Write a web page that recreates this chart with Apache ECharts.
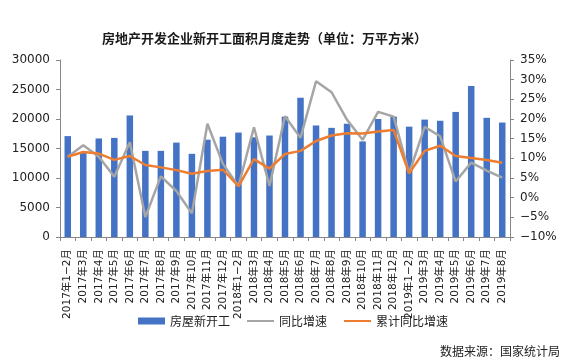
<!DOCTYPE html>
<html>
<head>
<meta charset="utf-8">
<script src="https://cdn.jsdelivr.net/npm/echarts@6/dist/echarts.min.js"></script>
<style>html,body{margin:0;padding:0;background:#fff;}#c{width:566px;height:361px;}</style>
</head>
<body>
<div id="c"></div>
<script>
const categories = ['2017年1−2月','2017年3月','2017年4月','2017年5月','2017年6月','2017年7月','2017年8月','2017年9月','2017年10月','2017年11月','2017年12月',
  '2018年1−2月','2018年3月','2018年4月','2018年5月','2018年6月','2018年7月','2018年8月','2018年9月','2018年10月','2018年11月','2018年12月',
  '2019年1−2月','2019年3月','2019年4月','2019年5月','2019年6月','2019年7月','2019年8月'];
const newStart = [17100,14400,16700,16800,20600,14600,14600,16000,14100,16500,17000,
  17700,16900,17200,20400,23600,18900,18500,19200,16200,20000,20400,
  18700,19900,19700,21200,25600,20200,19400];
const yoy = [10.4,13.3,10.4,5.3,14.1,-4.9,5.4,1.7,-4.0,18.8,8.6,
  2.9,17.9,3.0,20.7,15.2,29.6,26.8,19.8,14.7,21.8,20.6,
  6.2,18.0,15.6,4.1,8.9,6.9,5.1];
const cumYoy = [10.4,11.6,11.2,9.6,10.6,8.3,7.7,7.0,6.1,6.8,7.1,
  2.9,9.8,7.4,11.1,11.9,14.4,15.8,16.4,16.3,16.8,17.2,
  6.2,11.9,13.2,10.6,10.1,9.6,8.9];
const seriesNames = ['房屋新开工','同比增速','累计同比增速'];
const titleText = '房地产开发企业新开工面积月度走势（单位：万平方米）';
const sourceText = '数据来源：国家统计局';

const FONT = '"DejaVu Sans", "Noto Sans CJK SC", sans-serif';
const CJK = '"Noto Sans CJK SC", sans-serif';
const axisColor = '#878787';

const chart = echarts.init(document.getElementById('c'), null, {renderer: 'canvas'});
chart.setOption({
  animation: false,
  backgroundColor: '#ffffff',
  title: {
    text: titleText,
    left: 97, top: 27,
    textStyle: {fontFamily: CJK, fontSize: 13, fontWeight: 'bold', color: '#1a1a1a'}
  },
  graphic: [{
    type: 'text', right: 6, top: 345,
    style: {text: sourceText, font: '12px ' + CJK, fill: '#222'}
  }],
  legend: {
    data: [
      {name: seriesNames[0], icon: 'rect'},
      {name: seriesNames[1], itemStyle: {opacity: 0}},
      {name: seriesNames[2], itemStyle: {opacity: 0}}
    ],
    left: 133, top: 310,
    itemWidth: 27, itemHeight: 7, itemGap: 16,
    textStyle: {fontFamily: CJK, fontSize: 12, color: '#222'}
  },
  grid: {left: 60, right: 56, top: 60, bottom: 124, containLabel: false},
  xAxis: {
    type: 'category',
    data: categories,
    boundaryGap: true,
    axisLine: {lineStyle: {color: axisColor, width: 1}},
    axisTick: {show: true, length: 4, alignWithLabel: false, lineStyle: {color: axisColor}},
    axisLabel: {interval: 0, rotate: 90, margin: 12, fontFamily: FONT, fontSize: 10.5, color: '#222'}
  },
  yAxis: [{
    type: 'value', min: 0, max: 30000, interval: 5000,
    axisLine: {show: true, lineStyle: {color: axisColor}},
    axisTick: {show: true, length: 4, lineStyle: {color: axisColor}},
    splitLine: {show: false},
    axisLabel: {margin: 10, fontFamily: FONT, fontSize: 12, color: '#222', formatter: v => String(v)}
  }, {
    type: 'value', min: -10, max: 35, interval: 5, position: 'right',
    axisLine: {show: true, lineStyle: {color: axisColor}},
    axisTick: {show: true, length: 4, lineStyle: {color: axisColor}},
    splitLine: {show: false},
    axisLabel: {margin: 10, fontFamily: FONT, fontSize: 12, color: '#222',
      formatter: v => (v < 0 ? '−' + Math.abs(v) : v) + '%'}
  }],
  series: [{
    name: seriesNames[0], type: 'bar', data: newStart, yAxisIndex: 0,
    barWidth: 6.5, itemStyle: {color: '#4472C4'}
  }, {
    name: seriesNames[1], type: 'line', data: yoy, yAxisIndex: 1,
    symbol: 'none', lineStyle: {color: '#A5A5A5', width: 2.5}, itemStyle: {color: '#A5A5A5'}
  }, {
    name: seriesNames[2], type: 'line', data: cumYoy, yAxisIndex: 1,
    symbol: 'none', lineStyle: {color: '#ED7D31', width: 2.5}, itemStyle: {color: '#ED7D31'}
  }]
});
</script>
</body>
</html>
